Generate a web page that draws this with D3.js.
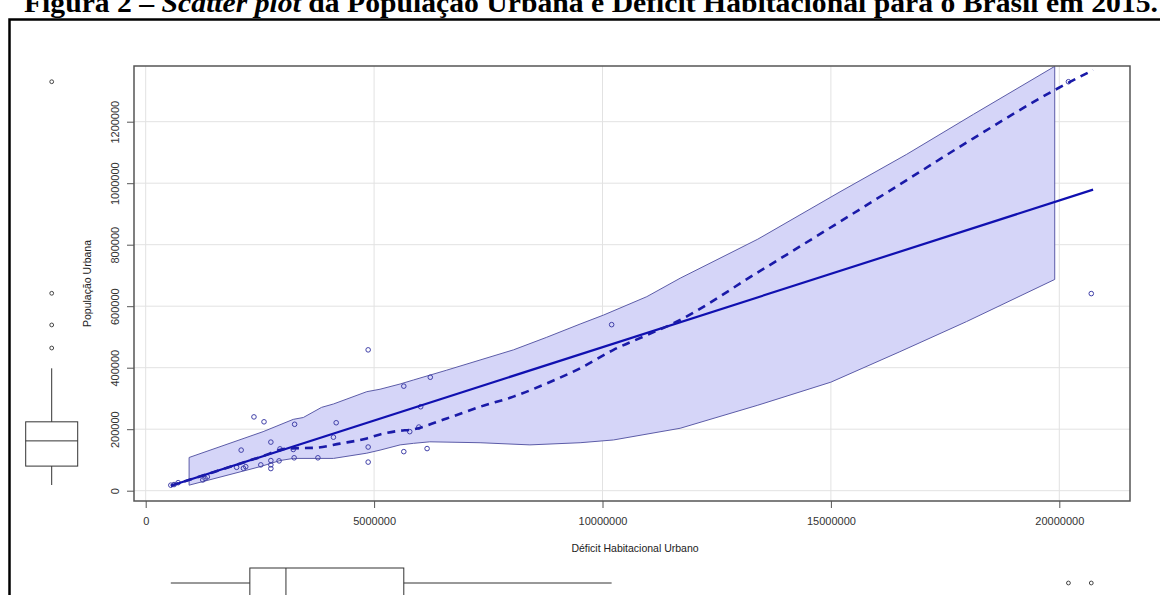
<!DOCTYPE html>
<html>
<head>
<meta charset="utf-8">
<script src="https://cdn.jsdelivr.net/npm/d3@7/dist/d3.min.js"></script>
<style>
html,body{margin:0;padding:0;background:#fff;}
svg{display:block;}
</style>
</head>
<body>
<svg id="chart" width="1160" height="595"></svg>
<script>
// ---- data ----
const xTicks = [0, 5000000, 10000000, 15000000, 20000000];
const yTicks = [0, 200000, 400000, 600000, 800000, 1000000, 1200000];

// scatter points (Déficit Habitacional Urbano, População Urbana)
const deficit = [4870000, 2370000, 2590000, 2090000, 2740000, 3260000, 4170000, 4110000, 2940000,
  2740000, 2740000, 2740000, 3250000, 3770000, 2920000, 2520000, 2190000, 2140000, 1990000,
  4870000, 4870000, 1300000, 1350000, 550000, 620000, 710000, 1250000, 3230000,
  10200000, 6230000, 5650000, 6020000, 5980000, 5780000, 5650000, 6160000,
  20200000, 20700000];
const populacao = [458000, 240000, 224000, 132000, 158000, 216000, 221000, 174000, 136000,
  98000, 84000, 72000, 107000, 107000, 97000, 84000, 78000, 73000, 76000,
  142000, 93000, 40000, 45000, 18000, 20000, 26000, 35000, 134000,
  540000, 369000, 340000, 273000, 207000, 192000, 127000, 137000,
  1330000, 641000];

// linear fit (solid)
const fitX = [550000, 20740000];
const fitY = [16000, 979000];

// smooth (dashed)
const smoothX = [550000, 1500000, 2500000, 3100000, 3740000, 4250000, 4840000, 5130000, 5570000, 5790000,
  6590000, 7320000, 8050000, 8780000, 9510000, 10240000, 10970000, 11550000, 13400000,
  15200000, 16660000, 18120000, 19900000, 20740000];
const smoothY = [16000, 61000, 109000, 137000, 140000, 153000, 170000, 183000, 195000, 198000,
  235000, 273000, 306000, 349000, 398000, 458000, 506000, 544000, 710000,
  875000, 1010000, 1146000, 1303000, 1368000];

// shaded band
const bandUpperX = [950000, 2570000, 3230000, 3450000, 3850000, 4110000, 4840000, 5130000, 5570000, 5860000,
  6590000, 7320000, 8050000, 8780000, 9510000, 10020000, 10970000, 11700000, 13400000, 15200000,
  16660000, 18120000, 19900000];
const bandUpperY = [108000, 192000, 232000, 238000, 271000, 282000, 322000, 330000, 347000, 360000,
  392000, 425000, 458000, 499000, 542000, 571000, 631000, 691000, 818000, 972000,
  1094000, 1224000, 1380000];
const bandLowerX = [950000, 2500000, 2940000, 3230000, 4110000, 4840000, 5130000, 5570000, 5860000, 6220000,
  7320000, 8410000, 9510000, 10240000, 11700000, 13400000, 15000000, 16510000, 17970000, 19900000];
const bandLowerY = [18000, 78000, 98000, 105000, 105000, 122000, 132000, 149000, 154000, 159000,
  156000, 149000, 156000, 165000, 203000, 278000, 353000, 452000, 550000, 687000];

// marginal boxplots: [lower whisker, Q1, median, Q3, upper whisker]
const yBoxStats = [18500, 80000, 162000, 224000, 398000];
const yOutliers = [464000, 539000, 642000, 1330000];
const xBoxStats = [550000, 2280000, 3070000, 5650000, 10200000];
const xOutliers = [20200000, 20700000];

const titleText = ["Figura 2 – ", "Scatter plot", " da População Urbana e Déficit Habitacional para o Brasil em 2015."];
const xTitle = "Déficit Habitacional Urbano";
const yTitle = "População Urbana";

// ---- drawing ----
const svg = d3.select("#chart");
const plot = {left: 134, right: 1130, top: 66, bottom: 501};

const x = d3.scaleLinear().domain([0, 20000000]).range([145.7, 1059.3]);
const y = d3.scaleLinear().domain([0, 1200000]).range([490.7, 121.7]);

// title (cut at top, as in the reference)
const t = svg.append("text")
  .attr("x", 24).attr("y", 12)
  .attr("textLength", 1134).attr("lengthAdjust", "spacingAndGlyphs")
  .attr("font-family", "Liberation Serif, Times New Roman, serif")
  .attr("font-size", 27).attr("font-weight", "bold").attr("fill", "#000");
t.append("tspan").text(titleText[0]);
t.append("tspan").attr("font-style", "italic").text(titleText[1]);
t.append("tspan").text(titleText[2]);

// page frame
svg.append("path")
  .attr("d", `M9.5,600 L9.5,19.5 L1170,19.5`)
  .attr("fill", "none").attr("stroke", "#000").attr("stroke-width", 2.5);

// clip
svg.append("defs").append("clipPath").attr("id", "clip")
  .append("rect").attr("x", plot.left).attr("y", plot.top)
  .attr("width", plot.right - plot.left).attr("height", plot.bottom - plot.top);

// grid
const grid = svg.append("g").attr("stroke", "#e2e2e2").attr("stroke-width", 1);
grid.selectAll(".gx").data(xTicks).join("line")
  .attr("x1", d => x(d)).attr("x2", d => x(d))
  .attr("y1", plot.top).attr("y2", plot.bottom);
grid.selectAll(".gy").data(yTicks).join("line")
  .attr("x1", plot.left).attr("x2", plot.right)
  .attr("y1", d => y(d)).attr("y2", d => y(d));

const g = svg.append("g").attr("clip-path", "url(#clip)");

// band polygon
const upperPts = bandUpperX.map((d, i) => [x(d), y(bandUpperY[i])]);
const lowerPts = bandLowerX.map((d, i) => [x(d), y(bandLowerY[i])]).reverse();
const poly = upperPts.concat(lowerPts);
g.append("path")
  .attr("d", d3.line()(poly) + "Z")
  .attr("fill", "#d5d5f8").attr("stroke", "#5c5ca8").attr("stroke-width", 1);

// points
g.selectAll(".pt").data(deficit).join("circle")
  .attr("cx", d => x(d)).attr("cy", (d, i) => y(populacao[i]))
  .attr("r", 2.3).attr("fill", "none").attr("stroke", "#4040a8").attr("stroke-width", 1);

// linear fit
g.append("path")
  .attr("d", d3.line()(fitX.map((d, i) => [x(d), y(fitY[i])])))
  .attr("fill", "none").attr("stroke", "#1010b0").attr("stroke-width", 2.2);

// smooth
g.append("path")
  .attr("d", d3.line().curve(d3.curveMonotoneX)(smoothX.map((d, i) => [x(d), y(smoothY[i])])))
  .attr("fill", "none").attr("stroke", "#1a1aa8").attr("stroke-width", 2.6)
  .attr("stroke-dasharray", "8,6");

// plot box
svg.append("rect")
  .attr("x", plot.left).attr("y", plot.top)
  .attr("width", plot.right - plot.left).attr("height", plot.bottom - plot.top)
  .attr("fill", "none").attr("stroke", "#555").attr("stroke-width", 1.5);

// x axis
const xAxis = svg.append("g").attr("transform", `translate(0,${plot.bottom})`)
  .call(d3.axisBottom(x).tickValues(xTicks).tickSize(7).tickPadding(9).tickFormat(d3.format("d")));
xAxis.select(".domain").remove();
xAxis.selectAll("line").attr("stroke", "#555");
xAxis.selectAll("text").attr("font-family", "Liberation Sans, Arial, sans-serif")
  .attr("font-size", 11).attr("fill", "#333");

// y axis
const yAxis = svg.append("g").attr("transform", `translate(${plot.left},0)`)
  .call(d3.axisLeft(y).tickValues(yTicks).tickSize(7).tickFormat(d3.format("d")));
yAxis.select(".domain").remove();
yAxis.selectAll("line").attr("stroke", "#555");
yAxis.selectAll("text")
  .attr("font-family", "Liberation Sans, Arial, sans-serif")
  .attr("font-size", 11).attr("fill", "#333")
  .attr("text-anchor", "middle")
  .attr("x", null)
  .attr("transform", `translate(-19,0) rotate(-90)`)
  .attr("dy", "0.35em");

// axis titles
svg.append("text").attr("x", (plot.left + plot.right) / 2 + 3).attr("y", 552)
  .attr("text-anchor", "middle")
  .attr("font-family", "Liberation Sans, Arial, sans-serif").attr("font-size", 10.5).attr("fill", "#222")
  .text(xTitle);
svg.append("text")
  .attr("transform", `translate(91,${(plot.top + plot.bottom) / 2}) rotate(-90)`)
  .attr("text-anchor", "middle")
  .attr("font-family", "Liberation Sans, Arial, sans-serif").attr("font-size", 10.5).attr("fill", "#222")
  .text(yTitle);

// y marginal boxplot
const yb = svg.append("g").attr("stroke", "#333").attr("fill", "none").attr("stroke-width", 1);
const ybx = 51.7, ybw = 52;
yb.append("line").attr("x1", ybx).attr("x2", ybx).attr("y1", y(yBoxStats[0])).attr("y2", y(yBoxStats[1]));
yb.append("line").attr("x1", ybx).attr("x2", ybx).attr("y1", y(yBoxStats[3])).attr("y2", y(yBoxStats[4]));
yb.append("rect").attr("x", ybx - ybw / 2).attr("width", ybw)
  .attr("y", y(yBoxStats[3])).attr("height", y(yBoxStats[1]) - y(yBoxStats[3]));
yb.append("line").attr("x1", ybx - ybw / 2).attr("x2", ybx + ybw / 2)
  .attr("y1", y(yBoxStats[2])).attr("y2", y(yBoxStats[2]));
yb.selectAll(".yo").data(yOutliers).join("circle")
  .attr("cx", ybx).attr("cy", d => y(d)).attr("r", 1.9).attr("stroke", "#444");

// x marginal boxplot
const xb = svg.append("g").attr("stroke", "#333").attr("fill", "none").attr("stroke-width", 1);
const xby = 583, xbh = 30;
xb.append("line").attr("y1", xby).attr("y2", xby).attr("x1", x(xBoxStats[0])).attr("x2", x(xBoxStats[1]));
xb.append("line").attr("y1", xby).attr("y2", xby).attr("x1", x(xBoxStats[3])).attr("x2", x(xBoxStats[4]));
xb.append("rect").attr("y", xby - xbh / 2).attr("height", xbh)
  .attr("x", x(xBoxStats[1])).attr("width", x(xBoxStats[3]) - x(xBoxStats[1]));
xb.append("line").attr("y1", xby - xbh / 2).attr("y2", xby + xbh / 2)
  .attr("x1", x(xBoxStats[2])).attr("x2", x(xBoxStats[2]));
xb.selectAll(".xo").data(xOutliers).join("circle")
  .attr("cy", xby).attr("cx", d => x(d)).attr("r", 1.9).attr("stroke", "#444");
</script>
</body>
</html>
